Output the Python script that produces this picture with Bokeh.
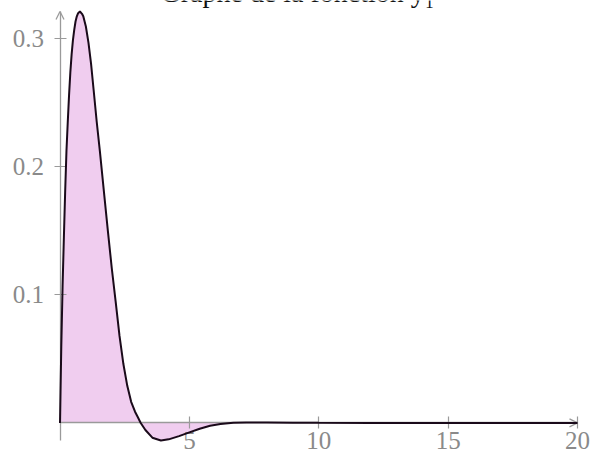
from bokeh.plotting import figure
from bokeh.models import Range1d, FixedTicker, Arrow, OpenHead, Label
from bokeh.embed import file_html
from bokeh.resources import INLINE

# ---- data ----
x_vals = [0, 0.02, 0.05, 0.1, 0.15, 0.2, 0.25, 0.3, 0.35, 0.4, 0.45, 0.5, 0.55,
          0.6, 0.65, 0.7, 0.77, 0.85, 0.9, 1.0, 1.1, 1.2, 1.3, 1.42, 1.54, 1.7,
          1.85, 2.0, 2.15, 2.3, 2.45, 2.6, 2.75, 2.9, 3.0, 3.12, 3.3, 3.57, 3.9,
          4.2, 4.6, 5.0, 5.4, 5.8, 6.2, 6.7, 7.2, 8.0, 9.0, 10.0, 12.0, 15.0, 20.0]
y_vals = [0.0, 0.025, 0.06, 0.107, 0.145, 0.181, 0.2125, 0.235, 0.256, 0.274,
          0.288, 0.299, 0.307, 0.3135, 0.3175, 0.3200, 0.3213, 0.3195, 0.3176,
          0.3096, 0.297, 0.2806, 0.260, 0.235, 0.2125, 0.180, 0.150, 0.121,
          0.095, 0.068, 0.046, 0.029, 0.0165, 0.0088, 0.0048, 0.0, -0.0055,
          -0.0115, -0.0137, -0.0128, -0.0103, -0.0074, -0.0045, -0.0022,
          -0.0008, 0.0001, 0.0004, 0.0004, 0.0002, 0.0001, 0.0, 0.0, 0.0]
x_ticks = [5, 10, 15, 20]
x_tick_labels = ["5", "10", "15", "20"]
y_ticks = [0.1, 0.2, 0.3]
y_tick_labels = ["0.1", "0.2", "0.3"]
title_text = "Graphe de la fonction y\u2081"

# ---- layout (pixels) ----
W, H = 590, 456
AX_LEFT, AX_RIGHT = 59.5, 577.0     # where x = 0 and x = 20 fall
AX_TOP, AX_BOTTOM = 11.0, 440.0     # where y = max and y = min fall

x_lo, x_hi = 0, 20
y_lo, y_hi = min(y_vals), max(y_vals)
sx = (AX_RIGHT - AX_LEFT) / (x_hi - x_lo)
sy = (AX_BOTTOM - AX_TOP) / (y_hi - y_lo)
x_range = Range1d(x_lo - AX_LEFT / sx, x_hi + (W - AX_RIGHT) / sx)
y_range = Range1d(y_lo - (H - AX_BOTTOM) / sy, y_hi + AX_TOP / sy)

# ---- styling ----
AXIS_GRAY = "#9a9a9a"
LABEL_GRAY = "#8a8a8a"
FONT = "Liberation Serif"

p = figure(width=W, height=H, output_backend="svg", toolbar_location=None,
           x_range=x_range, y_range=y_range,
           min_border=0, min_border_left=0, min_border_right=0,
           min_border_top=0, min_border_bottom=0)
p.outline_line_color = None
p.grid.visible = False
p.background_fill_color = "white"

# filled area between curve and zero
p.varea(x=x_vals, y1=[0] * len(x_vals), y2=y_vals, fill_color="#f0cdef")
# curve
p.line(x=x_vals, y=y_vals, line_color="#1a0a1a", line_width=2, level="overlay")

for ax in (p.xaxis[0], p.yaxis[0]):
    ax.fixed_location = 0
    ax.axis_line_color = AXIS_GRAY
    ax.axis_line_width = 1.3
    ax.major_tick_line_color = AXIS_GRAY
    ax.major_tick_line_width = 1.2
    ax.major_tick_in = 6
    ax.major_tick_out = 6
    ax.minor_tick_line_color = None
    ax.major_label_text_font = FONT
    ax.major_label_text_font_size = "25px"
    ax.major_label_text_color = LABEL_GRAY

p.xaxis.bounds = (x_lo, x_hi)
p.xaxis.ticker = FixedTicker(ticks=x_ticks)
p.xaxis.major_label_overrides = dict(zip(x_ticks, x_tick_labels))
p.xaxis.major_label_standoff = 3
p.yaxis.bounds = (y_lo, y_hi)
p.yaxis.ticker = FixedTicker(ticks=y_ticks)
p.yaxis.major_label_overrides = dict(zip(y_ticks, y_tick_labels))
p.yaxis.major_label_standoff = 10

# arrow heads at the ends of the axes
p.add_layout(Arrow(x_start=x_hi - 0.5, y_start=0, x_end=x_hi, y_end=0,
                   line_alpha=0,
                   end=OpenHead(size=8, line_color=AXIS_GRAY, line_width=1.3)))
p.add_layout(Arrow(x_start=0, y_start=y_hi - 0.01, x_end=0, y_end=y_hi,
                   line_alpha=0,
                   end=OpenHead(size=8, line_color=AXIS_GRAY, line_width=1.3)))

# title, partly above the top edge as in the reference
TITLE_LEFT_PX, TITLE_BASE_PX = 160.0, -8.5
p.add_layout(Label(x=x_range.start + TITLE_LEFT_PX / sx,
                   y=y_range.end - TITLE_BASE_PX / sy,
                   text=title_text, text_font=FONT,
                   text_font_size="28px", text_align="left",
                   text_baseline="alphabetic", text_color="#111111"))

html = file_html(p, INLINE)
html = html.replace("<head>", "<head><style>html,body{margin:0;padding:0;}</style>", 1)
open("out.html", "w").write(html)
